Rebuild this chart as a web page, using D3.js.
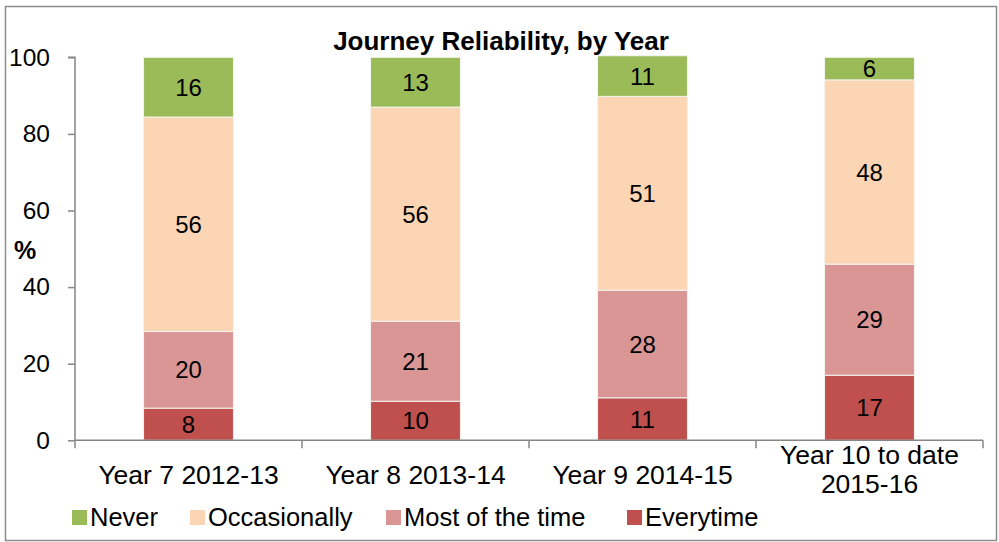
<!DOCTYPE html>
<meta charset="utf-8">
<script src="https://d3js.org/d3.v7.min.js"></script>
<style>
  body { margin: 0; background: #fff; }
  text { font-family: "Liberation Sans", Arial, sans-serif; }
</style>
<div id="chart"></div>
<script>
// data (bar heights estimated, labels shown rounded)
var years = ["Year 7 2012-13", "Year 8 2013-14", "Year 9 2014-15", "Year 10 to date 2015-16"];
var series = ["Everytime", "Most of the time", "Occasionally", "Never"];
var everytime = [8.4, 10.2, 11.1, 17.0];
var mostOfTheTime = [20.0, 20.9, 28.1, 29.0];
var occasionally = [56.0, 55.9, 50.6, 48.1];
var never = [15.6, 13.0, 10.6, 5.9];
var yTicks = [0, 20, 40, 60, 80, 100];
var colors = ["#C0504D", "#D99694", "#FCD5B5", "#9BBB59"];

var width = 999, height = 542;
var margin = {top: 57, right: 16, bottom: 102, left: 75};

var svg = d3.select("#chart").append("svg")
    .attr("width", width)
    .attr("height", height);

// outer frame
svg.append("rect")
    .attr("x", 5.5).attr("y", 6.5)
    .attr("width", width - 8).attr("height", height - 8)
    .attr("fill", "none").attr("stroke", "#8c8c8c").attr("stroke-width", 1.5);

var rows = years.map(function(y, i) {
    return {year: y, "Everytime": everytime[i], "Most of the time": mostOfTheTime[i],
            "Occasionally": occasionally[i], "Never": never[i]};
});
var stacked = d3.stack().keys(series)(rows);

var x = d3.scaleBand().domain(years)
    .range([margin.left, width - margin.right])
    .paddingInner(0.604).paddingOuter(0.302);
var y = d3.scaleLinear().domain([0, 100])
    .range([440.3, 57.3]);
var color = d3.scaleOrdinal().domain(series).range(colors);

// bars
var g = svg.selectAll(".layer").data(stacked).enter().append("g")
    .attr("fill", function(d) { return color(d.key); });
g.selectAll("rect").data(function(d) { return d; }).enter().append("rect")
    .attr("x", function(d) { return x(d.data.year); })
    .attr("y", function(d) { return y(d[1]); })
    .attr("width", x.bandwidth())
    .attr("height", function(d) { return y(d[0]) - y(d[1]); })
    .attr("stroke", "#f4f4ee").attr("stroke-width", 1);

// value labels
g.selectAll("text").data(function(d) { return d; }).enter().append("text")
    .attr("x", function(d) { return x(d.data.year) + x.bandwidth() / 2; })
    .attr("y", function(d) { return (y(d[0]) + y(d[1])) / 2; })
    .attr("dy", "0.36em")
    .attr("text-anchor", "middle")
    .attr("font-size", "24px").attr("fill", "#000")
    .text(function(d) { return Math.round(d[1] - d[0]); });

// y axis
var yAxis = svg.append("g")
    .attr("transform", "translate(" + margin.left + ",0)")
    .call(d3.axisLeft(y).tickValues(yTicks).tickSize(7).tickPadding(18));
yAxis.selectAll("text").attr("font-size", "24.5px").attr("fill", "#000")
    .attr("font-family", "Liberation Sans, Arial, sans-serif");
yAxis.selectAll("line, path").attr("stroke", "#868686").attr("stroke-width", 1.5);
yAxis.select(".domain").attr("d", "M-7," + y(100) + "H0V" + y(0));

// x axis
var xAxis = svg.append("g")
    .attr("transform", "translate(0," + y(0) + ")")
    .call(d3.axisBottom(x).tickSize(0).tickPadding(25));
xAxis.selectAll("line, path").attr("stroke", "#868686").attr("stroke-width", 1.5);
xAxis.select(".domain").attr("d", "M" + margin.left + ",0H" + (width - margin.right));
// category boundary ticks
var bounds = years.map(function(d) { return x(d) - x.step() * x.paddingInner() / 2; })
    .concat([width - margin.right]);
xAxis.selectAll(".bound").data(bounds).enter().append("line")
    .attr("x1", function(d) { return d; }).attr("x2", function(d) { return d; })
    .attr("y1", 0).attr("y2", 8)
    .attr("stroke", "#868686").attr("stroke-width", 1.5);
xAxis.selectAll(".tick text").attr("font-size", "26.5px").attr("fill", "#000")
    .attr("font-family", "Liberation Sans, Arial, sans-serif")
    .each(function(d) {
        if (d === "Year 10 to date 2015-16") {
            var t = d3.select(this).text(null);
            t.append("tspan").attr("x", 0).attr("dy", "-0.05em").text("Year 10 to date");
            t.append("tspan").attr("x", 0).attr("dy", "1.1em").text("2015-16");
        }
    });

// title
svg.append("text")
    .attr("x", 501).attr("y", 50)
    .attr("text-anchor", "middle")
    .attr("font-size", "26px").attr("font-weight", "bold")
    .text("Journey Reliability, by Year");

// y axis title
svg.append("text")
    .attr("x", 25).attr("y", 259)
    .attr("text-anchor", "middle")
    .attr("font-size", "25px").attr("font-weight", "bold")
    .text("%");

// legend
var legendOrder = ["Never", "Occasionally", "Most of the time", "Everytime"];
var legendX = [72, 190, 386, 627];
var legend = svg.selectAll(".legend").data(legendOrder).enter().append("g")
    .attr("transform", function(d, i) { return "translate(" + legendX[i] + ",510)"; });
legend.append("rect")
    .attr("width", 15).attr("height", 15)
    .attr("fill", function(d) { return color(d); });
legend.append("text")
    .attr("x", 18).attr("y", 16)
    .attr("font-size", "25.5px")
    .text(function(d) { return d; });
</script>
